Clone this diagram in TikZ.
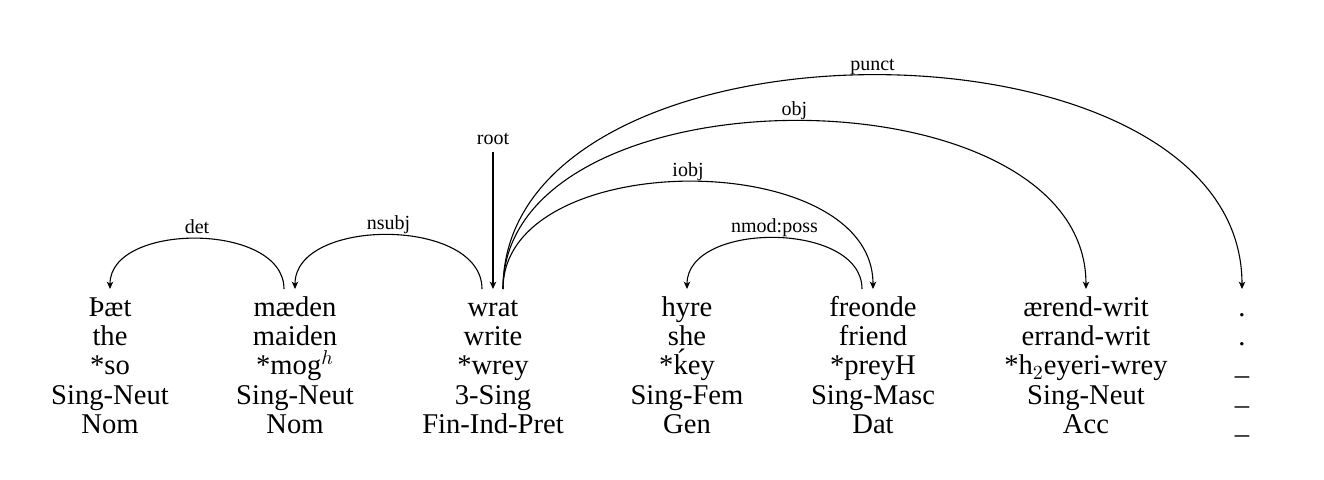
\documentclass[tikz,border=0pt]{standalone}
\usepackage{fontspec}
\setmainfont{Liberation Serif}
\usetikzlibrary{arrows.meta}
\begin{document}
\begin{tikzpicture}[x=0.5pt,y=-0.5pt,
  tok/.style={inner sep=0pt, anchor=base, font=\fontsize{14.3}{16}\selectfont},
  head/.style={tok, anchor=north, text height=13.5pt, text depth=0pt},
  dep/.style={line width=0.55pt, -{Stealth[length=3.6pt,width=3.2pt,inset=0.9pt]}},
  lab/.style={inner sep=0pt, anchor=base, font=\fontsize{10}{12}\selectfont, yshift=2.5pt},
  rootlab/.style={inner sep=0pt, anchor=base, font=\fontsize{10}{12}\selectfont}]
\useasboundingbox (0,0) rectangle (1324,480);
% row 1 (words)
\node[head] (w1) at (110,289) {Þæt};
\node[head] (w2) at (295,289) {mæden};
\node[head] (w3) at (493,289) {wrat};
\node[head] (w4) at (687,289) {hyre};
\node[head] (w5) at (873,289) {freonde};
\node[head] (w6) at (1086,289) {ærend-writ};
\node[head] (w7) at (1242,289) {.};
% row 2
\node[tok] (w1b) at (110,345.5) {the};
\node[tok] (w2b) at (295,345.5) {maiden};
\node[tok] (w3b) at (493,345.5) {write};
\node[tok] (w4b) at (687,345.5) {she};
\node[tok] (w5b) at (873,345.5) {friend};
\node[tok] (w6b) at (1086,345.5) {errand-writ};
\node[tok] (w7b) at (1242,345.5) {.};
% row 3
\node[tok] (w1c) at (110,375) {*so};
\node[tok] (w2c) at (295,375) {*mog$^h$};
\node[tok] (w3c) at (493,375) {*wrey};
\node[tok] (w4c) at (687,375) {*ḱey};
\node[tok] (w5c) at (873,375) {*preyH};
\node[tok] (w6c) at (1086,375) {*h$_2$eyeri-wrey};
\node[tok] (w7c) at (1242,375) {\_};
% row 4
\node[tok] (w1d) at (110,404.5) {Sing-Neut};
\node[tok] (w2d) at (295,404.5) {Sing-Neut};
\node[tok] (w3d) at (493,404.5) {3-Sing};
\node[tok] (w4d) at (687,404.5) {Sing-Fem};
\node[tok] (w5d) at (873,404.5) {Sing-Masc};
\node[tok] (w6d) at (1086,404.5) {Sing-Neut};
\node[tok] (w7d) at (1242,404.5) {\_};
% row 5
\node[tok] (w1e) at (110,434) {Nom};
\node[tok] (w2e) at (295,434) {Nom};
\node[tok] (w3e) at (493,434) {Fin-Ind-Pret};
\node[tok] (w4e) at (687,434) {Gen};
\node[tok] (w5e) at (873,434) {Dat};
\node[tok] (w6e) at (1086,434) {Acc};
\node[tok] (w7e) at (1242,434) {\_};
% root
\node[rootlab] (root) at (493,145) {root};
\draw[dep] ([yshift=-3pt]root.south) -- (w3.north);
% arcs
\draw[dep] ([xshift=-5.5pt]w2.north) .. controls +(0,-67) and +(0,-67) .. (w1.north)
  node[lab,pos=0.5] (ldet) {det};
\draw[dep] ([xshift=-5.5pt]w3.north) .. controls +(0,-72) and +(0,-72) .. (w2.north)
  node[lab,pos=0.5] (lnsubj) {nsubj};
\draw[dep] ([xshift=-5.5pt]w5.north) .. controls +(0,-68) and +(0,-68) .. (w4.north)
  node[lab,pos=0.5] (lnmod) {nmod:poss};
\draw[dep] ([xshift=5pt]w3.north) .. controls +(0,-143) and +(0,-143) .. (w5.north)
  node[lab,pos=0.5] (liobj) {iobj};
\draw[dep] ([xshift=5pt]w3.north) .. controls +(0,-224) and +(0,-224) .. (w6.north)
  node[lab,pos=0.5] (lobj) {obj};
\draw[dep] ([xshift=5pt]w3.north) .. controls +(0,-285) and +(0,-285) .. (w7.north)
  node[lab,pos=0.5] (lpunct) {punct};
\end{tikzpicture}
\end{document}
